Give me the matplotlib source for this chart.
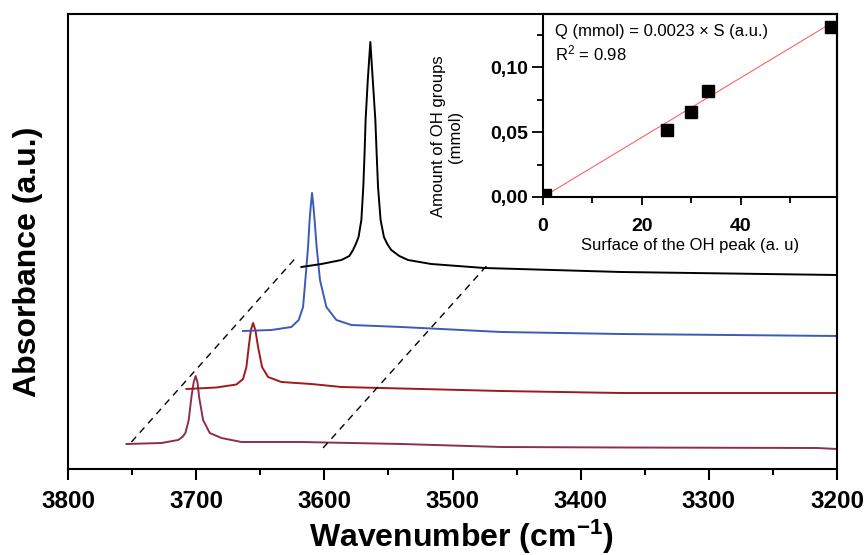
import matplotlib
matplotlib.use('Agg')
import matplotlib.pyplot as plt

plt.rcParams['font.family'] = ['Liberation Sans', 'DejaVu Sans']
plt.rcParams['mathtext.fontset'] = 'custom'
plt.rcParams['mathtext.rm'] = 'Liberation Sans'
plt.rcParams['mathtext.bf'] = 'Liberation Sans:bold'

# spectra, wavenumber (cm-1) vs absorbance (a.u., offset traces)
wn_black = [3617.9, 3602.3, 3586.7, 3580.5, 3577.6, 3575.1, 3573.3, 3571.1, 3569.6, 3568.6,
            3567.8, 3566.1, 3564.1, 3562.2, 3560.2, 3559.2, 3558.1, 3556.1, 3553.5, 3550.9,
            3547.8, 3541.5, 3534.7, 3516.6, 3475.2, 3368.4, 3200.0]
ab_black = [2.02, 2.05, 2.09, 2.13, 2.19, 2.26, 2.32, 2.49, 2.82, 3.16,
            3.49, 3.89, 4.27, 3.89, 3.49, 3.16, 2.82, 2.49, 2.32, 2.25,
            2.19, 2.13, 2.09, 2.05, 2.01, 1.97, 1.94]

wn_blue = [3663.4, 3641.3, 3625.7, 3620.0, 3616.6, 3614.8, 3612.7, 3611.5, 3610.5, 3609.6,
           3608.6, 3607.6, 3606.0, 3603.4, 3598.4, 3590.6, 3578.9, 3540.0, 3462.0, 3368.4,
           3200.0]
ab_blue = [1.38, 1.39, 1.42, 1.49, 1.62, 1.89, 2.22, 2.49, 2.64, 2.76,
           2.64, 2.49, 2.22, 1.89, 1.62, 1.49, 1.44, 1.42, 1.37, 1.35,
           1.33]

wn_red = [3707.6, 3684.2, 3668.6, 3663.4, 3660.8, 3659.0, 3657.3, 3655.6, 3653.8, 3651.7,
          3648.6, 3643.9, 3633.5, 3610.1, 3586.7, 3462.0, 3368.4, 3200.0]
ab_red = [0.80, 0.815, 0.845, 0.90, 1.02, 1.22, 1.39, 1.46, 1.39, 1.22,
          1.02, 0.92, 0.87, 0.85, 0.82, 0.78, 0.76, 0.76]

wn_purple = [3754.4, 3727.1, 3714.1, 3710.7, 3708.4, 3705.8, 3703.7, 3701.9, 3700.4, 3699.0,
             3697.7, 3694.6, 3689.4, 3680.3, 3664.7, 3617.9, 3540.0, 3462.0, 3368.4, 3215.6,
             3200.0]
ab_purple = [0.25, 0.26, 0.29, 0.32, 0.36, 0.49, 0.72, 0.87, 0.93, 0.87,
             0.72, 0.49, 0.36, 0.31, 0.27, 0.27, 0.25, 0.22, 0.215, 0.21,
             0.20]

# guide lines joining the traces
guide_left_wn = [3750.5, 3621.0]
guide_left_ab = [0.27, 2.13]
guide_right_wn = [3601.0, 3472.1]
guide_right_ab = [0.21, 2.05]

# inset calibration data
surface = [0.4, 25.0, 30.0, 33.4, 58.1]
oh_mmol = [0.0015, 0.0515, 0.0656, 0.0818, 0.131]
fit_x = [0.0, 58.1]
fit_y = [0.0, 0.1336]

fig = plt.figure(figsize=(8.66, 5.55), dpi=100)
ax = fig.add_axes([68 / 866, 1 - 469 / 555, (837 - 68) / 866, (469 - 14) / 555])

lw = 1.4
ax.plot(wn_purple, ab_purple, color='#8b2f4f', lw=lw)
ax.plot(wn_red, ab_red, color='#9e1a1a', lw=lw)
ax.plot(wn_blue, ab_blue, color='#3b5bb5', lw=lw)
ax.plot(wn_black, ab_black, color='black', lw=lw)
ax.plot(guide_left_wn, guide_left_ab, color='black', lw=1.0, ls=(0, (5, 4)))
ax.plot(guide_right_wn, guide_right_ab, color='black', lw=1.0, ls=(0, (5, 4)))

ax.set_xlim(3800, 3200)
ax.set_ylim(0, 4.55)
ax.set_yticks([])
ax.set_xticks([3800, 3700, 3600, 3500, 3400, 3300, 3200])
ax.set_xticks([3750, 3650, 3550, 3450, 3350, 3250], minor=True)
ax.tick_params(axis='x', which='major', direction='out', length=8, width=1.5,
               labelsize=17.5, pad=7)
ax.tick_params(axis='x', which='minor', direction='out', length=4.5, width=1.5)
for lab in ax.get_xticklabels():
    lab.set_fontweight('bold')
for sp in ax.spines.values():
    sp.set_linewidth(1.5)

ax.set_xlabel(r'Wavenumber (cm$\mathbf{^{-1}}$)', fontsize=23, fontweight='bold')
ax.xaxis.set_label_coords(0.512, -0.106)
ax.set_ylabel('Absorbance (a.u.)', fontsize=23, fontweight='bold')
ax.yaxis.set_label_coords(-0.0325, 0.455)

# inset
ins = fig.add_axes([543 / 866, 1 - 197 / 555, (837 - 543) / 866, (197 - 14) / 555])
ins.patch.set_alpha(0)
ins.plot(fit_x, fit_y, color='#ff5050', lw=0.7)
ins.plot(surface, oh_mmol, 's', color='black', markersize=8.5)
ins.set_xlim(0, 59.4)
ins.set_ylim(0, 0.141)
ins.set_xticks([0, 20, 40])
ins.set_xticks([10, 30, 50], minor=True)
ins.set_yticks([0, 0.05, 0.10])
ins.set_yticklabels(['0,00', '0,05', '0,10'])
ins.set_yticks([0.025, 0.075, 0.125], minor=True)
ins.tick_params(axis='x', which='major', direction='out', length=6, width=1.3,
                labelsize=14, pad=9)
ins.tick_params(axis='x', which='minor', direction='out', length=4, width=1.3)
ins.tick_params(axis='y', which='major', direction='out', length=8, width=1.3,
                labelsize=14, pad=3)
ins.tick_params(axis='y', which='minor', direction='out', length=4.5, width=1.3)
for lab in ins.get_xticklabels() + ins.get_yticklabels():
    lab.set_fontweight('bold')
for sp in ins.spines.values():
    sp.set_linewidth(1.5)

ins.set_xlabel('Surface of the OH peak (a. u)', fontsize=12, labelpad=2)
ins.set_ylabel('Amount of OH groups\n(mmol)', fontsize=12, linespacing=1.15)
ins.yaxis.set_label_coords(-0.272, 0.33)
ins.text(0.041, 0.907, 'Q (mmol) = 0.0023 \u00d7 S (a.u.)', transform=ins.transAxes,
         fontsize=12, va='center', ha='left')
ins.text(0.041, 0.787, r'R$\mathregular{^2}$ = 0.98', transform=ins.transAxes,
         fontsize=12, va='center', ha='left')

fig.savefig('out.png', dpi=100)
